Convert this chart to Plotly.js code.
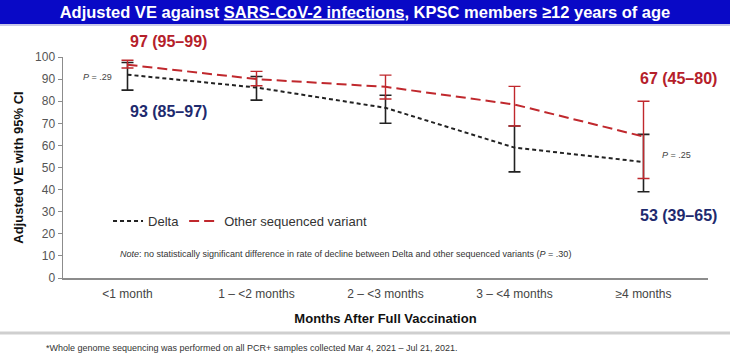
<!DOCTYPE html>
<html>
<head>
<meta charset="utf-8">
<script src="https://cdn.plot.ly/plotly-3.0.1.min.js"></script>
<style>html,body{margin:0;padding:0;background:#fff;}#chart{width:730px;height:363px;}</style>
</head>
<body>
<div id="chart"></div>
<script>
// ---- data ----
const categories = ['<1 month', '1 – <2 months', '2 – <3 months', '3 – <4 months', '≥4 months'];
const deltaVE   = [92, 86.2, 77, 59, 52.5];
const deltaLow  = [85, 80.5, 70, 48, 39];
const deltaHigh = [97.5, 91.2, 82.7, 68.8, 65];
const otherVE   = [96.5, 90, 86.5, 78.5, 64];
const otherLow  = [95, 87, 81, 68.8, 45];
const otherHigh = [98.5, 93.5, 91.8, 86.7, 80];
const yTicks = [0, 10, 20, 30, 40, 50, 60, 70, 80, 90, 100];

const RED = '#C0282D';
const BLK = '#222222';
const NAVY = '#1E2A6E';
const DARKRED = '#B5202A';

function plus(v, hi) { return hi.map((h, i) => h - v[i]); }
function minus(v, lo) { return v.map((x, i) => x - lo[i]); }

const traces = [
  {
    type: 'scatter', mode: 'lines', name: 'Delta',
    x: categories, y: deltaVE,
    line: {color: BLK, width: 2, dash: '4px,3px'},
    error_y: {type: 'data', symmetric: false, array: plus(deltaVE, deltaHigh), arrayminus: minus(deltaVE, deltaLow),
              color: BLK, thickness: 1.6, width: 6}
  },
  {
    type: 'scatter', mode: 'lines', name: 'Other sequenced variant',
    x: categories, y: otherVE,
    line: {color: RED, width: 2, dash: '10px,5px'},
    error_y: {type: 'data', symmetric: false, array: plus(otherVE, otherHigh), arrayminus: minus(otherVE, otherLow),
              color: RED, thickness: 1.4, width: 6}
  }
];

const arial = 'Liberation Sans, Arial, sans-serif';

const layout = {
  width: 730, height: 363,
  margin: {l: 63, r: 22, t: 57, b: 85},
  paper_bgcolor: '#ffffff', plot_bgcolor: '#ffffff',
  font: {family: arial, color: '#333'},
  title: {
    text: 'Adjusted VE against <u>SARS-CoV-2 infections</u>, KPSC members ≥12 years of age',
    font: {family: arial, size: 16.5, color: '#ffffff', weight: 'bold'},
    x: 0.5, xanchor: 'center', y: 0.967, yanchor: 'middle', yref: 'container'
  },
  showlegend: true,
  legend: {orientation: 'h', x: 0.0698, y: 0.258, xanchor: 'left', yanchor: 'middle',
           font: {size: 13, color: '#333', family: arial}, bgcolor: 'rgba(0,0,0,0)'},
  xaxis: {
    type: 'category', range: [-0.5, 4.5], showline: true, linecolor: '#8c8c8c', linewidth: 1.5,
    ticks: '', showgrid: false, zeroline: false, fixedrange: true, ticklabelstandoff: 4,
    tickfont: {size: 12, color: '#444', family: arial},
    title: {text: 'Months After Full Vaccination', font: {size: 13, color: '#111', family: arial, weight: 'bold'}, standoff: 14}
  },
  yaxis: {
    range: [0, 100], tickvals: yTicks, showline: true, linecolor: '#8c8c8c', linewidth: 1.5,
    ticks: 'outside', ticklen: 4, tickcolor: '#8c8c8c', showgrid: false, zeroline: false, fixedrange: true,
    tickfont: {size: 12, color: '#555', family: arial},
    title: {text: 'Adjusted VE with 95% CI', font: {size: 13, color: '#111', family: arial, weight: 'bold'}, standoff: 8}
  },
  shapes: [
    {type: 'rect', xref: 'paper', yref: 'paper', x0: -63/645, x1: 667/645, y0: 1.149, y1: 1.3,
     fillcolor: '#0909C6', line: {width: 0}, layer: 'below'},
    {type: 'line', xref: 'paper', yref: 'paper', x0: -63/645, x1: 667/645, y0: 1.145, y1: 1.145,
     line: {color: '#C9C9E8', width: 2}},
    {type: 'line', xref: 'paper', yref: 'paper', x0: -63/645, x1: 667/645, y0: -0.249, y1: -0.249,
     line: {color: '#CFCFCF', width: 3}}
  ],
  annotations: [
    {text: '<b>97 (95–99)</b>', xref: 'paper', yref: 'paper', x: 0.1628, y: 1.068, xanchor: 'center', yanchor: 'middle', showarrow: false,
     font: {size: 16, color: DARKRED, family: arial}},
    {text: '<b>93 (85–97)</b>', xref: 'paper', yref: 'y', x: 0.1628, y: 75.5, xanchor: 'center', yanchor: 'middle', showarrow: false,
     font: {size: 16, color: NAVY, family: arial}},
    {text: '<b>67 (45–80)</b>', xref: 'paper', yref: 'y', x: 0.9535, y: 90.2, xanchor: 'center', yanchor: 'middle', showarrow: false,
     font: {size: 16, color: DARKRED, family: arial}},
    {text: '<b>53 (39–65)</b>', xref: 'paper', yref: 'y', x: 0.9535, y: 28.5, xanchor: 'center', yanchor: 'middle', showarrow: false,
     font: {size: 16, color: NAVY, family: arial}},
    {text: '<i>P</i> = .29', xref: 'paper', yref: 'y', x: 0.0535, y: 91, xanchor: 'center', yanchor: 'middle', showarrow: false,
     font: {size: 9, color: '#444', family: arial}},
    {text: '<i>P</i> = .25', xref: 'paper', yref: 'y', x: 0.951, y: 55.5, xanchor: 'center', yanchor: 'middle', showarrow: false,
     font: {size: 9, color: '#444', family: arial}},
    {text: '<i>Note</i>: no statistically significant difference in rate of decline between Delta and other sequenced variants (<i>P</i> = .30)',
     xref: 'paper', yref: 'y', x: 55/645, y: 10.9, xanchor: 'left', yanchor: 'middle', showarrow: false,
     font: {size: 9, color: '#333', family: arial}},
    {text: '*Whole genome sequencing was performed on all PCR+ samples collected Mar 4, 2021 – Jul 21, 2021.',
     xref: 'paper', yref: 'paper', x: -19/645, y: -0.317, xanchor: 'left', yanchor: 'middle', showarrow: false,
     font: {size: 9, color: '#333', family: arial}}
  ]
};

Plotly.newPlot('chart', traces, layout, {displayModeBar: false, staticPlot: true});
</script>
</body>
</html>
